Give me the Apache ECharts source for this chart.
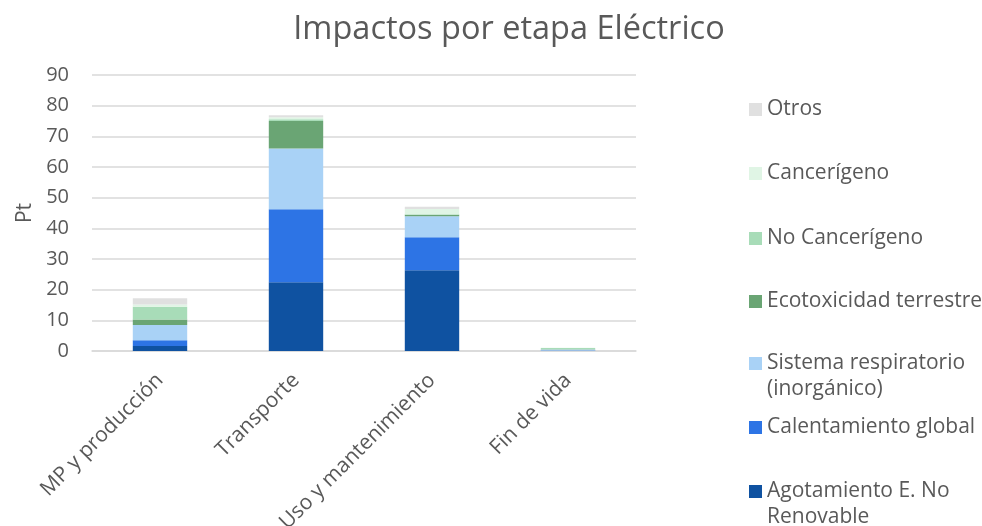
<!DOCTYPE html>
<html>
<head>
<meta charset="utf-8">
<script src="https://cdn.jsdelivr.net/npm/echarts@6/dist/echarts.min.js"></script>
<style>
  html, body { margin: 0; padding: 0; background: #fff; }
  #chart { width: 982px; height: 526px; }
</style>
</head>
<body>
<div id="chart"></div>
<script>
// Life-cycle stages
const stages = ['MP y producción', 'Transporte', 'Uso y mantenimiento', 'Fin de vida'];

// Impact categories (Pt) per stage
const agotamiento = [1.6, 22.4, 26.3, 0.1];
const calentamiento = [1.9, 23.8, 10.8, 0.1];
const respiratorio = [5.0, 19.8, 6.8, 0.3];
const ecotoxicidad = [1.8, 9.0, 0.5, 0.1];
const noCancerigeno = [4.1, 0.6, 0.2, 0.4];
const cancerigeno = [0.8, 0.6, 1.7, 0.1];
const otros = [2.0, 0.7, 0.7, 0.0];

const yTicks = { min: 0, max: 90, interval: 10 };

const FONT = '"Open Sans", Lato, sans-serif';
const TEXT = '#595959';
const LEGEND_SIZE = 21;

const seriesDefs = [
  { name: 'Agotamiento E. No Renovable', data: agotamiento, color: '#0F52A1', line1: 'Agotamiento E. No', line2: 'Renovable', y: 490 },
  { name: 'Calentamiento global', data: calentamiento, color: '#2D74E5', y: 426 },
  { name: 'Sistema respiratorio (inorgánico)', data: respiratorio, color: '#A9D2F6', line1: 'Sistema respiratorio', line2: '(inorgánico)', y: 362 },
  { name: 'Ecotoxicidad terrestre', data: ecotoxicidad, color: '#6AA574', y: 300 },
  { name: 'No Cancerígeno', data: noCancerigeno, color: '#A8DCB8', y: 237 },
  { name: 'Cancerígeno', data: cancerigeno, color: '#E0F5E5', y: 172 },
  { name: 'Otros', data: otros, color: '#E0E0E0', y: 108 }
];

const legends = seriesDefs.map(s => ({
  data: [s.name],
  left: 749,
  top: s.y - 9,
  padding: 0,
  itemWidth: 13,
  itemHeight: 13,
  icon: 'rect',
  selectedMode: false,
  formatter: () => s.line1 || s.name,
  textStyle: { fontFamily: FONT, fontSize: LEGEND_SIZE, color: TEXT }
}));

const secondLines = seriesDefs.filter(s => s.line2).map(s => ({
  type: 'text',
  left: 767,
  top: s.y + 17,
  style: { text: s.line2, font: LEGEND_SIZE + 'px ' + FONT, fill: TEXT }
}));

const chart = echarts.init(document.getElementById('chart'));
chart.setOption({
  backgroundColor: '#ffffff',
  animation: false,
  title: {
    text: 'Impactos por etapa Eléctrico',
    left: 504,
    textAlign: 'center',
    top: 8,
    textStyle: { fontFamily: FONT, fontSize: 32.5, fontWeight: 'normal', color: TEXT }
  },
  legend: legends,
  graphic: secondLines,
  grid: { left: 92, right: 346, top: 75, bottom: 175, containLabel: false, outerBoundsMode: 'none' },
  xAxis: {
    type: 'category',
    data: stages,
    axisLine: { lineStyle: { color: '#D9D9D9', width: 1.5 } },
    axisTick: { show: false },
    axisLabel: { rotate: 45, margin: 26, fontFamily: FONT, fontSize: 21, color: TEXT }
  },
  yAxis: {
    type: 'value',
    min: yTicks.min,
    max: yTicks.max,
    interval: yTicks.interval,
    name: 'Pt',
    nameLocation: 'middle',
    nameGap: 56,
    nameRotate: 90,
    nameTextStyle: { fontFamily: FONT, fontSize: 21, color: TEXT },
    axisLine: { show: false },
    axisTick: { show: false },
    axisLabel: { margin: 23, fontFamily: FONT, fontSize: 20, color: TEXT },
    splitLine: { lineStyle: { color: '#D9D9D9', width: 1.5 } }
  },
  series: seriesDefs.map(s => ({
    name: s.name,
    type: 'bar',
    stack: 'total',
    barWidth: '40%',
    data: s.data,
    itemStyle: { color: s.color }
  }))
});
</script>
</body>
</html>
